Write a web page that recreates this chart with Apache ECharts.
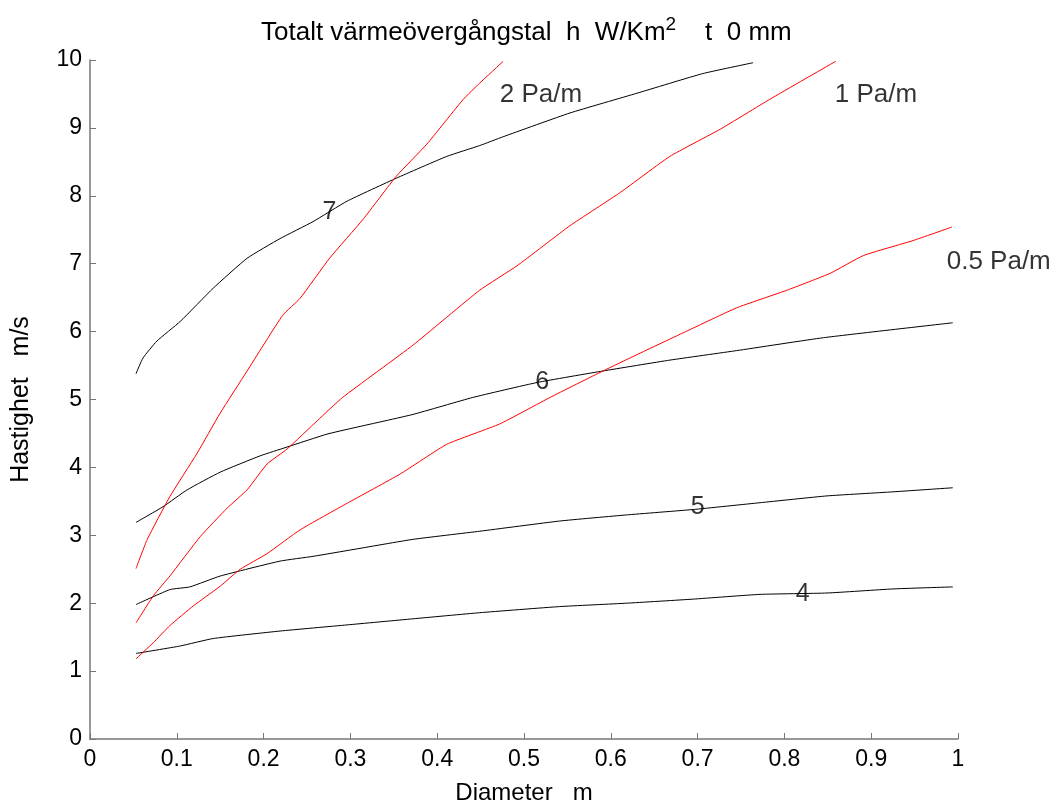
<!DOCTYPE html>
<html>
<head>
<meta charset="utf-8">
<script src="https://cdn.jsdelivr.net/npm/echarts@6/dist/echarts.min.js"></script>
<style>html,body{margin:0;padding:0;background:#fff}#c{width:1056px;height:810px}</style>
</head>
<body>
<div id="c"></div>
<script>
const xTicks = [0,0.1,0.2,0.3,0.4,0.5,0.6,0.7,0.8,0.9,1];
const h7 = [[0.053,5.38],[0.061,5.61],[0.077,5.86],[0.104,6.15],[0.142,6.64],[0.181,7.08],[0.219,7.37],[0.257,7.62],[0.296,7.92],[0.353,8.26],[0.411,8.58],[0.449,8.74],[0.476,8.87],[0.553,9.22],[0.630,9.51],[0.706,9.80],[0.764,9.96]];
const h6 = [[0.053,3.19],[0.084,3.42],[0.112,3.67],[0.150,3.93],[0.196,4.17],[0.227,4.30],[0.273,4.49],[0.303,4.58],[0.372,4.78],[0.441,5.03],[0.515,5.25],[0.591,5.42],[0.668,5.58],[0.745,5.72],[0.845,5.91],[0.994,6.13]];
const h5 = [[0.053,1.98],[0.092,2.20],[0.115,2.24],[0.150,2.40],[0.219,2.62],[0.257,2.69],[0.303,2.79],[0.372,2.94],[0.449,3.06],[0.541,3.21],[0.618,3.30],[0.695,3.38],[0.772,3.48],[0.849,3.58],[0.925,3.64],[0.994,3.70]];
const h4 = [[0.053,1.26],[0.104,1.37],[0.142,1.48],[0.219,1.59],[0.296,1.68],[0.372,1.77],[0.449,1.86],[0.541,1.95],[0.618,2.00],[0.695,2.06],[0.772,2.13],[0.849,2.15],[0.925,2.21],[0.994,2.24]];
const r2 = [[0.053,2.51],[0.066,2.94],[0.092,3.57],[0.123,4.20],[0.150,4.80],[0.181,5.42],[0.222,6.24],[0.242,6.49],[0.276,7.08],[0.315,7.66],[0.353,8.29],[0.388,8.76],[0.430,9.42],[0.449,9.66],[0.476,9.98]];
const r1 = [[0.053,1.71],[0.073,2.11],[0.092,2.40],[0.127,2.98],[0.158,3.40],[0.181,3.67],[0.204,4.05],[0.227,4.27],[0.262,4.69],[0.291,5.03],[0.372,5.80],[0.449,6.61],[0.492,6.97],[0.553,7.56],[0.611,8.05],[0.668,8.58],[0.726,8.98],[0.783,9.42],[0.859,9.98]];
const r05 = [[0.053,1.18],[0.073,1.42],[0.092,1.67],[0.119,1.96],[0.150,2.25],[0.173,2.50],[0.204,2.73],[0.242,3.08],[0.296,3.47],[0.357,3.90],[0.411,4.34],[0.472,4.64],[0.530,5.03],[0.591,5.42],[0.630,5.66],[0.688,6.01],[0.745,6.35],[0.803,6.61],[0.853,6.86],[0.891,7.12],[0.948,7.34],[0.993,7.54]];
const contourLabels = [[0.276,7.76,'7'],[0.521,5.25,'6'],[0.700,3.41,'5'],[0.821,2.13,'4']];
const pressureLabels = [[0.472,9.49,'2 Pa/m'],[0.858,9.49,'1 Pa/m'],[0.987,7.03,'0.5 Pa/m']];

const FONT = 'Liberation Sans, Arial, sans-serif';
const chart = echarts.init(document.getElementById('c'), null, {renderer:'canvas'});
function line(name, data, color){
  return {name, type:'line', data, showSymbol:false, symbol:'none', smooth:0.15,
    lineStyle:{color, width:1}, animation:false, silent:true, z:2};
}
chart.setOption({
  backgroundColor:'#fff',
  animation:false,
  title:{
    text:'Totalt värmeövergångstal  h  W/Km{sup|2}    t  0 mm',
    left:256, top:10,
    textStyle:{fontFamily:FONT, fontSize:26, fontWeight:'normal', color:'#000',
      rich:{sup:{fontFamily:FONT, fontSize:19, verticalAlign:'top', padding:[0,0,16,0], color:'#000'}}}
  },
  grid:{left:90, right:98, top:60, bottom:66, containLabel:false},
  xAxis:{
    type:'value', min:0, max:1, interval:0.1,
    name:'Diameter   m', nameLocation:'middle', nameGap:42,
    nameTextStyle:{fontFamily:FONT, fontSize:24, color:'#000'},
    axisLine:{show:true, lineStyle:{color:'#777', width:1.5}},
    axisTick:{show:true, inside:true, length:6, lineStyle:{color:'#777'}},
    axisLabel:{fontFamily:FONT, fontSize:23, color:'#000', margin:9,
      formatter:v=>{const t=xTicks.find(k=>Math.abs(k-v)<1e-9); return t===undefined?'':String(t);}},
    splitLine:{show:false}
  },
  yAxis:{
    type:'value', min:0, max:10, interval:1,
    name:'Hastighet   m/s', nameLocation:'middle', nameGap:56, nameRotate:90,
    nameTextStyle:{fontFamily:FONT, fontSize:25, color:'#000'},
    axisLine:{show:true, lineStyle:{color:'#777', width:1.5}},
    axisTick:{show:true, inside:true, length:6, lineStyle:{color:'#777'}},
    axisLabel:{fontFamily:FONT, fontSize:23, color:'#000', margin:8},
    splitLine:{show:false}
  },
  series:[
    line('h7', h7, '#000'),
    line('h6', h6, '#000'),
    line('h5', h5, '#000'),
    line('h4', h4, '#000'),
    line('2 Pa/m', r2, '#ff0000'),
    line('1 Pa/m', r1, '#ff0000'),
    line('0.5 Pa/m', r05, '#ff0000'),
    {type:'scatter', data:contourLabels, symbolSize:0, silent:true, z:3,
      label:{show:true, position:'inside', formatter:p=>p.data[2], fontFamily:FONT, fontSize:25, color:'#000'}},
    {type:'scatter', data:pressureLabels, symbolSize:0, silent:true, z:3,
      label:{show:true, position:'right', distance:0, formatter:p=>p.data[2], fontFamily:FONT, fontSize:26, color:'#000'}}
  ]
});
</script>
</body>
</html>
